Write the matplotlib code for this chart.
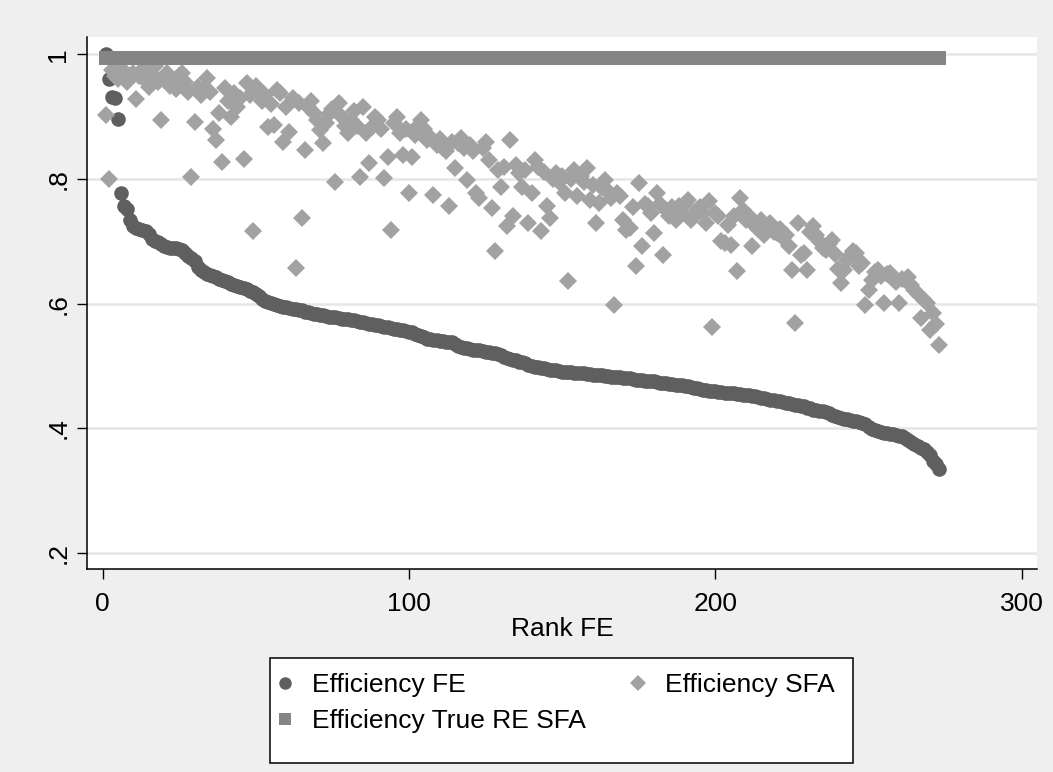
import matplotlib.pyplot as plt
from matplotlib.lines import Line2D
from matplotlib.patches import Rectangle

plt.rcParams['font.family'] = ['Liberation Sans', 'DejaVu Sans']

# rank of each unit by fixed-effects efficiency (1 = most efficient)
rank_fe = list(range(1, 274))

eff_fe = [
    1.000, 0.960, 0.932, 0.930, 0.897, 0.777, 0.756, 0.752, 0.735, 0.724,
    0.721, 0.719, 0.718, 0.716, 0.712, 0.704, 0.701, 0.699, 0.695, 0.692,
    0.691, 0.690, 0.690, 0.689, 0.688, 0.686, 0.682, 0.677, 0.673, 0.668,
    0.658, 0.654, 0.651, 0.648, 0.646, 0.644, 0.642, 0.640, 0.638, 0.636,
    0.634, 0.632, 0.630, 0.628, 0.626, 0.625, 0.623, 0.621, 0.619, 0.616,
    0.612, 0.608, 0.605, 0.603, 0.601, 0.599, 0.597, 0.596, 0.595, 0.594,
    0.593, 0.592, 0.591, 0.590, 0.589, 0.587, 0.586, 0.585, 0.584, 0.583,
    0.582, 0.581, 0.580, 0.579, 0.579, 0.578, 0.577, 0.576, 0.576, 0.575,
    0.574, 0.573, 0.572, 0.571, 0.570, 0.569, 0.568, 0.567, 0.566, 0.565,
    0.564, 0.563, 0.562, 0.561, 0.560, 0.559, 0.558, 0.557, 0.556, 0.555,
    0.554, 0.552, 0.550, 0.548, 0.546, 0.544, 0.543, 0.542, 0.541, 0.540,
    0.540, 0.539, 0.539, 0.538, 0.535, 0.532, 0.530, 0.529, 0.528, 0.527,
    0.526, 0.526, 0.525, 0.524, 0.523, 0.522, 0.521, 0.520, 0.519, 0.517,
    0.515, 0.513, 0.511, 0.510, 0.509, 0.507, 0.506, 0.504, 0.502, 0.500,
    0.499, 0.498, 0.497, 0.496, 0.495, 0.494, 0.493, 0.493, 0.492, 0.491,
    0.491, 0.490, 0.490, 0.489, 0.489, 0.488, 0.488, 0.487, 0.487, 0.486,
    0.486, 0.485, 0.485, 0.484, 0.484, 0.483, 0.483, 0.482, 0.482, 0.481,
    0.480, 0.480, 0.479, 0.478, 0.478, 0.477, 0.476, 0.476, 0.475, 0.475,
    0.474, 0.473, 0.473, 0.472, 0.471, 0.471, 0.470, 0.469, 0.469, 0.468,
    0.467, 0.466, 0.465, 0.464, 0.463, 0.462, 0.461, 0.460, 0.459, 0.459,
    0.458, 0.458, 0.457, 0.457, 0.456, 0.456, 0.455, 0.455, 0.454, 0.454,
    0.453, 0.452, 0.451, 0.450, 0.449, 0.448, 0.447, 0.446, 0.445, 0.444,
    0.443, 0.442, 0.441, 0.440, 0.439, 0.438, 0.437, 0.436, 0.435, 0.433,
    0.432, 0.430, 0.429, 0.428, 0.427, 0.426, 0.424, 0.422, 0.420, 0.418,
    0.416, 0.415, 0.414, 0.413, 0.412, 0.411, 0.410, 0.409, 0.406, 0.402,
    0.399, 0.397, 0.395, 0.394, 0.393, 0.392, 0.391, 0.390, 0.389, 0.388,
    0.387, 0.385, 0.381, 0.378, 0.375, 0.372, 0.369, 0.366, 0.362, 0.357,
    0.348, 0.342, 0.334,
]

eff_sfa = [
    0.903, 0.800, 0.975, 0.965, 0.960, 0.978, 0.968, 0.955, 0.962, 0.970,
    0.928, 0.965, 0.975, 0.958, 0.948, 0.968, 0.982, 0.955, 0.895, 0.962,
    0.970, 0.950, 0.958, 0.945, 0.965, 0.970, 0.955, 0.940, 0.804, 0.891,
    0.948, 0.935, 0.945, 0.962, 0.940, 0.881, 0.863, 0.906, 0.828, 0.946,
    0.925, 0.900, 0.938, 0.915, 0.930, 0.832, 0.954, 0.935, 0.717, 0.949,
    0.943, 0.925, 0.935, 0.884, 0.920, 0.887, 0.943, 0.938, 0.860, 0.915,
    0.876, 0.930, 0.657, 0.922, 0.737, 0.847, 0.915, 0.925, 0.906, 0.895,
    0.879, 0.858, 0.890, 0.905, 0.912, 0.796, 0.922, 0.900, 0.885, 0.874,
    0.895, 0.910, 0.885, 0.804, 0.916, 0.874, 0.826, 0.884, 0.900, 0.895,
    0.880, 0.801, 0.836, 0.718, 0.890, 0.900, 0.874, 0.839, 0.880, 0.777,
    0.836, 0.870, 0.885, 0.895, 0.880, 0.863, 0.868, 0.775, 0.855, 0.865,
    0.850, 0.845, 0.757, 0.860, 0.817, 0.858, 0.866, 0.850, 0.799, 0.855,
    0.845, 0.777, 0.770, 0.850, 0.860, 0.830, 0.753, 0.684, 0.815, 0.788,
    0.820, 0.724, 0.862, 0.740, 0.823, 0.810, 0.788, 0.815, 0.729, 0.777,
    0.831, 0.820, 0.716, 0.812, 0.756, 0.738, 0.800, 0.809, 0.795, 0.805,
    0.777, 0.636, 0.800, 0.815, 0.772, 0.805, 0.795, 0.817, 0.767, 0.790,
    0.729, 0.761, 0.785, 0.799, 0.780, 0.770, 0.598, 0.777, 0.772, 0.734,
    0.718, 0.722, 0.755, 0.661, 0.793, 0.692, 0.760, 0.756, 0.745, 0.713,
    0.777, 0.760, 0.678, 0.750, 0.740, 0.755, 0.735, 0.756, 0.745, 0.760,
    0.767, 0.735, 0.740, 0.750, 0.755, 0.745, 0.730, 0.764, 0.563, 0.745,
    0.740, 0.700, 0.697, 0.726, 0.694, 0.740, 0.653, 0.769, 0.750, 0.735,
    0.740, 0.692, 0.725, 0.720, 0.734, 0.710, 0.725, 0.729, 0.715, 0.713,
    0.720, 0.705, 0.710, 0.692, 0.654, 0.569, 0.729, 0.678, 0.681, 0.654,
    0.715, 0.724, 0.710, 0.700, 0.690, 0.686, 0.695, 0.702, 0.680, 0.656,
    0.633, 0.654, 0.670, 0.676, 0.685, 0.681, 0.660, 0.665, 0.598, 0.622,
    0.638, 0.650, 0.654, 0.645, 0.601, 0.648, 0.649, 0.640, 0.635, 0.601,
    0.640, 0.638, 0.643, 0.630, 0.622, 0.615, 0.577, 0.606, 0.601, 0.558,
    0.585, 0.568, 0.534,
]

eff_true_re = [
    0.995, 0.995, 0.995, 0.995, 0.995, 0.995, 0.995, 0.995, 0.995, 0.995,
    0.995, 0.995, 0.995, 0.995, 0.995, 0.995, 0.995, 0.995, 0.995, 0.995,
    0.995, 0.995, 0.995, 0.995, 0.995, 0.995, 0.995, 0.995, 0.995, 0.995,
    0.995, 0.995, 0.995, 0.995, 0.995, 0.995, 0.995, 0.995, 0.995, 0.995,
    0.995, 0.995, 0.995, 0.995, 0.995, 0.995, 0.995, 0.995, 0.995, 0.995,
    0.995, 0.995, 0.995, 0.995, 0.995, 0.995, 0.995, 0.995, 0.995, 0.995,
    0.995, 0.995, 0.995, 0.995, 0.995, 0.995, 0.995, 0.995, 0.995, 0.995,
    0.995, 0.995, 0.995, 0.995, 0.995, 0.995, 0.995, 0.995, 0.995, 0.995,
    0.995, 0.995, 0.995, 0.995, 0.995, 0.995, 0.995, 0.995, 0.995, 0.995,
    0.995, 0.995, 0.995, 0.995, 0.995, 0.995, 0.995, 0.995, 0.995, 0.995,
    0.995, 0.995, 0.995, 0.995, 0.995, 0.995, 0.995, 0.995, 0.995, 0.995,
    0.995, 0.995, 0.995, 0.995, 0.995, 0.995, 0.995, 0.995, 0.995, 0.995,
    0.995, 0.995, 0.995, 0.995, 0.995, 0.995, 0.995, 0.995, 0.995, 0.995,
    0.995, 0.995, 0.995, 0.995, 0.995, 0.995, 0.995, 0.995, 0.995, 0.995,
    0.995, 0.995, 0.995, 0.995, 0.995, 0.995, 0.995, 0.995, 0.995, 0.995,
    0.995, 0.995, 0.995, 0.995, 0.995, 0.995, 0.995, 0.995, 0.995, 0.995,
    0.995, 0.995, 0.995, 0.995, 0.995, 0.995, 0.995, 0.995, 0.995, 0.995,
    0.995, 0.995, 0.995, 0.995, 0.995, 0.995, 0.995, 0.995, 0.995, 0.995,
    0.995, 0.995, 0.995, 0.995, 0.995, 0.995, 0.995, 0.995, 0.995, 0.995,
    0.995, 0.995, 0.995, 0.995, 0.995, 0.995, 0.995, 0.995, 0.995, 0.995,
    0.995, 0.995, 0.995, 0.995, 0.995, 0.995, 0.995, 0.995, 0.995, 0.995,
    0.995, 0.995, 0.995, 0.995, 0.995, 0.995, 0.995, 0.995, 0.995, 0.995,
    0.995, 0.995, 0.995, 0.995, 0.995, 0.995, 0.995, 0.995, 0.995, 0.995,
    0.995, 0.995, 0.995, 0.995, 0.995, 0.995, 0.995, 0.995, 0.995, 0.995,
    0.995, 0.995, 0.995, 0.995, 0.995, 0.995, 0.995, 0.995, 0.995, 0.995,
    0.995, 0.995, 0.995, 0.995, 0.995, 0.995, 0.995, 0.995, 0.995, 0.995,
    0.995, 0.995, 0.995, 0.995, 0.995, 0.995, 0.995, 0.995, 0.995, 0.995,
    0.995, 0.995, 0.995,
]

x_ticks = [0, 100, 200, 300]
y_ticks = [0.2, 0.4, 0.6, 0.8, 1.0]
y_tick_labels = ['.2', '.4', '.6', '.8', '1']

labels = ['Efficiency FE', 'Efficiency SFA', 'Efficiency True RE SFA']
c_fe, c_sfa, c_re = '#5f5f5f', '#a2a2a2', '#858585'

W, H = 1053, 772
figure = plt.figure(figsize=(W / 100, H / 100), dpi=100, facecolor='#efefef')
axes = figure.add_axes([87 / W, 1 - 569 / H, (1037 - 87) / W, (569 - 37) / H])
axes.set_facecolor('white')

axes.plot(rank_fe, eff_fe, 'o', color=c_fe, markersize=10.5, markeredgewidth=0, zorder=3)
axes.plot(rank_fe, eff_sfa, 'D', color=c_sfa, markersize=9.2, markeredgewidth=0, zorder=4)
axes.plot(rank_fe, eff_true_re, 's', color=c_re, markersize=10.5, markeredgewidth=0, zorder=5)

axes.set_xlim(-5.1, 305)
axes.set_ylim(0.174, 1.028)
axes.set_xticks(x_ticks)
axes.set_yticks(y_ticks)
axes.set_yticklabels(y_tick_labels, rotation=90, va='center')
axes.tick_params(axis='both', labelsize=19, length=7, width=1, color='black')
axes.tick_params(axis='x', pad=9.5)
axes.tick_params(axis='y', pad=5)
axes.grid(axis='y', color='#e6e6e6', linewidth=1.8, zorder=0)
axes.set_axisbelow(True)
for side in ['top', 'right']:
    axes.spines[side].set_visible(False)
for side in ['left', 'bottom']:
    axes.spines[side].set_linewidth(1.1)
axes.set_xlabel('Rank FE', fontsize=19, labelpad=1)

# legend frame drawn separately so its padding can match the Stata box
figure.patches.append(Rectangle((270 / W, 1 - 763 / H), (853 - 270) / W, (763 - 658) / H,
                                transform=figure.transFigure, facecolor='white',
                                edgecolor='black', linewidth=1.1, zorder=0))

handles = [
    Line2D([], [], linestyle='none', marker='o', color=c_fe, markersize=9, markeredgewidth=0),
    Line2D([], [], linestyle='none', marker='s', color=c_re, markersize=9, markeredgewidth=0),
    Line2D([], [], linestyle='none', marker='D', color=c_sfa, markersize=8.5, markeredgewidth=0),
]
legend = figure.legend(handles, [labels[0], labels[2], labels[1]], ncol=2,
                       loc='upper left', bbox_to_anchor=(272 / W, 1 - 673 / H),
                       fontsize=19, frameon=False, borderaxespad=0, borderpad=0,
                       handlelength=1.0, handletextpad=0.5, columnspacing=1.5,
                       labelspacing=0.45)

figure.savefig('out.png', dpi=100, facecolor=figure.get_facecolor())
